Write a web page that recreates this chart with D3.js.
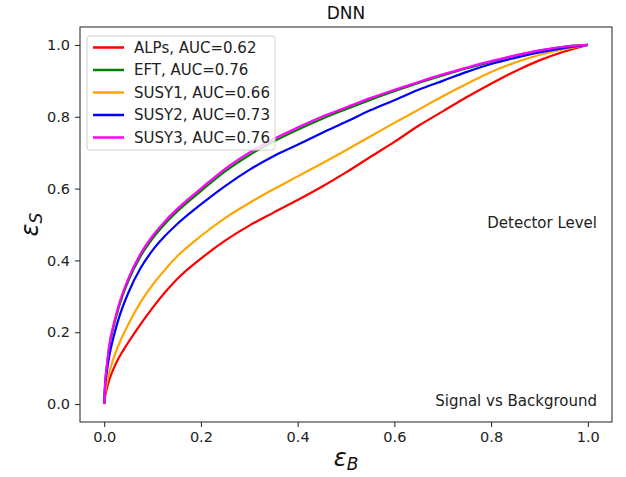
<!DOCTYPE html>
<html><head><meta charset="utf-8">
<script src="https://cdn.jsdelivr.net/npm/d3@7"></script>
<style>body{margin:0;background:#fff;} text{font-family:"DejaVu Sans",sans-serif;}</style>
</head><body><svg id="c" width="626" height="477"></svg>
<script>
const fpr = [0,0.002,0.005,0.01,0.02,0.03,0.05,0.075,0.1,0.125,0.15,0.2,0.25,0.3,0.35,0.4,0.45,0.5,0.55,0.6,0.65,0.7,0.75,0.8,0.85,0.9,0.95,1.0];
const alps  = [0,0.022,0.04,0.065,0.1,0.128,0.172,0.222,0.268,0.31,0.347,0.405,0.455,0.497,0.533,0.568,0.605,0.645,0.688,0.73,0.775,0.815,0.855,0.892,0.927,0.957,0.981,1];
const eft   = [0,0.06,0.10,0.155,0.218,0.268,0.343,0.411,0.461,0.501,0.535,0.593,0.648,0.693,0.731,0.764,0.794,0.821,0.847,0.871,0.894,0.915,0.935,0.953,0.97,0.984,0.995,1];
const susy1 = [0,0.03,0.055,0.085,0.13,0.165,0.222,0.283,0.332,0.373,0.41,0.468,0.518,0.56,0.598,0.634,0.67,0.707,0.745,0.783,0.82,0.857,0.892,0.925,0.951,0.972,0.988,1];
const susy2 = [0,0.05,0.085,0.13,0.19,0.238,0.31,0.378,0.428,0.467,0.5,0.556,0.607,0.652,0.69,0.722,0.755,0.786,0.818,0.846,0.875,0.9,0.925,0.947,0.964,0.979,0.991,1];
const susy3 = [0,0.06,0.10,0.16,0.225,0.275,0.35,0.418,0.468,0.508,0.542,0.60,0.655,0.70,0.738,0.77,0.80,0.826,0.852,0.875,0.897,0.918,0.937,0.955,0.971,0.985,0.995,1];
const seriesNames = ["ALPs, AUC=0.62","EFT, AUC=0.76","SUSY1, AUC=0.66","SUSY2, AUC=0.73","SUSY3, AUC=0.76"];
const seriesValues = [alps, eft, susy1, susy2, susy3];
const seriesColors = ["#ff0000","#008000","#ffa500","#0000ff","#ff00ff"];
const ticks = [0,0.2,0.4,0.6,0.8,1.0];

const svg = d3.select("#c");
const L=80,R=612,T=27,B=422;
const x = d3.scaleLinear().domain([-0.05,1.05]).range([L,R]);
const y = d3.scaleLinear().domain([-0.05,1.05]).range([B,T]);

const line = d3.line().x(d=>x(d[0])).y(d=>y(d[1])).curve(d3.curveMonotoneX);
seriesValues.forEach((vals,i)=>{
  svg.append("path").datum(fpr.map((f,j)=>[f,vals[j]]))
    .attr("d",line).attr("fill","none").attr("stroke",seriesColors[i])
    .attr("stroke-width",2.2).attr("stroke-linejoin","round");
});

const xa = svg.append("g").attr("transform",`translate(0,${B})`)
  .call(d3.axisBottom(x).tickValues(ticks).tickFormat(d3.format(".1f")).tickSizeOuter(0).tickSize(5).tickPadding(5));
const ya = svg.append("g").attr("transform",`translate(${L},0)`)
  .call(d3.axisLeft(y).tickValues(ticks).tickFormat(d3.format(".1f")).tickSizeOuter(0).tickSize(5).tickPadding(5));
[xa,ya].forEach(a=>{a.select(".domain").remove(); a.selectAll("text").attr("font-size",14.5).attr("fill","#222").attr("font-family","DejaVu Sans"); a.selectAll("line").attr("stroke","#222");});

svg.append("rect").attr("x",L).attr("y",T).attr("width",R-L).attr("height",B-T)
  .attr("fill","none").attr("stroke","#222").attr("stroke-width",1);

// title
svg.append("text").attr("x",(L+R)/2).attr("y",19).attr("text-anchor","middle").attr("font-size",17).attr("fill","#111").text("DNN");

// axis labels
const xl = svg.append("text").attr("x",(L+R)/2).attr("y",466).attr("text-anchor","middle").attr("fill","#111");
xl.append("tspan").attr("font-size",24).attr("font-style","italic").text("ε");
xl.append("tspan").attr("font-size",17).attr("font-style","italic").attr("dy",4).text("B");
const yl = svg.append("text").attr("transform",`translate(38,${(T+B)/2}) rotate(-90)`).attr("text-anchor","middle").attr("fill","#111");
yl.append("tspan").attr("font-size",24).attr("font-style","italic").text("ε");
yl.append("tspan").attr("font-size",17).attr("font-style","italic").attr("dy",4).text("S");

// annotations
svg.append("text").attr("x",597).attr("y",228).attr("text-anchor","end").attr("font-size",15).attr("fill","#222").text("Detector Level");
svg.append("text").attr("x",597).attr("y",406).attr("text-anchor","end").attr("font-size",15).attr("fill","#222").text("Signal vs Background");

// legend
const lg = svg.append("g");
lg.append("rect").attr("x",87).attr("y",36).attr("width",188).attr("height",114).attr("rx",3)
  .attr("fill","#fff").attr("fill-opacity",0.8).attr("stroke","#d0d0d0");
seriesNames.forEach((n,i)=>{
  const yy = 47.5 + i*22.5;
  lg.append("line").attr("x1",93).attr("x2",124).attr("y1",yy).attr("y2",yy).attr("stroke",seriesColors[i]).attr("stroke-width",2.5);
  lg.append("text").attr("x",134).attr("y",yy+5).attr("font-size",15).attr("fill","#222").text(n);
});
</script></body></html>
